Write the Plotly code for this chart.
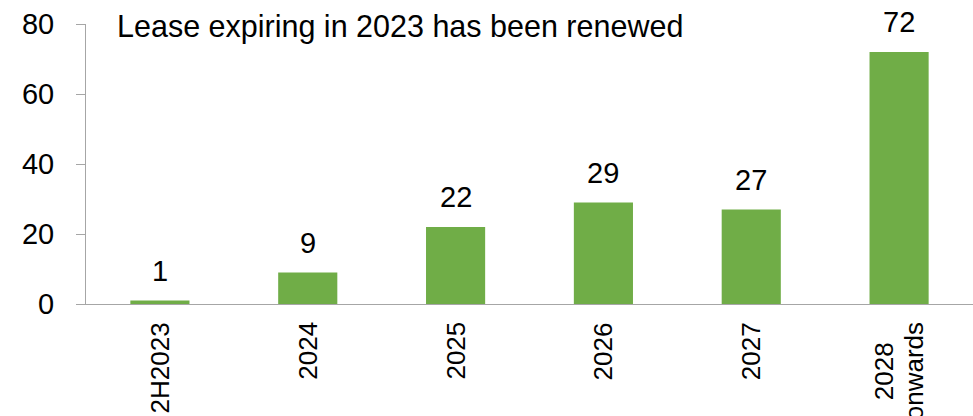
import plotly.graph_objects as go

categories = ["2H2023", "2024", "2025", "2026", "2027", "2028<br>onwards"]
values = [1, 9, 22, 29, 27, 72]
y_ticks = [0, 20, 40, 60, 80]
title_text = "Lease expiring in 2023 has been renewed"

FONT = "Liberation Sans, Arial, sans-serif"
GREEN = "#70AD47"
AXIS = "#A6A6A6"
FS = 29
XFS = 26

fig = go.Figure()
fig.add_trace(go.Bar(
    x=list(range(len(categories))), y=values,
    marker=dict(color=GREEN, line=dict(width=0)),
    width=0.4,
    cliponaxis=False,
))

# value labels above bars
for i, v in enumerate(values):
    fig.add_annotation(x=i, y=v, text=str(v), showarrow=False,
                       yanchor="bottom", yshift=12,
                       font=dict(family=FONT, size=FS, color="#000000"))

# rotated category labels below the axis
GAP = 16
LINE = 30
for i, cat in enumerate(categories):
    lines = cat.split("<br>")
    if len(lines) == 1:
        fig.add_annotation(x=i, xref="x", yref="paper", y=0, text=cat,
                           textangle=-90, showarrow=False,
                           xanchor="center", yanchor="top", yshift=-GAP,
                           font=dict(family=FONT, size=XFS, color="#000000"))
    else:
        longest = max(len(s) for s in lines)
        half = longest * 0.54 * XFS / 2
        n = len(lines)
        for k, s in enumerate(lines):
            fig.add_annotation(x=i, xref="x", yref="paper", y=0, text=s,
                               textangle=-90, showarrow=False,
                               xanchor="center", yanchor="middle",
                               yshift=-(GAP + 2 + half),
                               xshift=(k - (n - 1) / 2) * LINE,
                               font=dict(family=FONT, size=XFS, color="#000000"))

fig.add_annotation(xref="paper", yref="paper", x=0.033, y=0.99,
                   xanchor="left", yanchor="middle", showarrow=False,
                   text=title_text,
                   font=dict(family=FONT, size=30.5, color="#000000"))

fig.update_layout(
    width=973, height=416,
    margin=dict(l=86, r=0, t=24, b=112),
    paper_bgcolor="white", plot_bgcolor="white",
    showlegend=False,
    font=dict(family=FONT, size=FS, color="#000000"),
)
fig.update_yaxes(range=[0, 80], tickvals=y_ticks, showgrid=False,
                 showline=True, linecolor=AXIS, linewidth=1,
                 ticks="outside", ticklen=9, tickcolor=AXIS,
                 ticklabelstandoff=16, automargin=False,
                 zeroline=False, tickfont=dict(size=FS))
fig.update_xaxes(range=[-0.5, len(categories) - 0.5], showgrid=False,
                 showline=True, linecolor=AXIS, linewidth=1, ticks="",
                 showticklabels=False, zeroline=False, automargin=False)

fig.write_html("out.html", config={"displayModeBar": False},
               post_script="document.body.style.margin='0';")
